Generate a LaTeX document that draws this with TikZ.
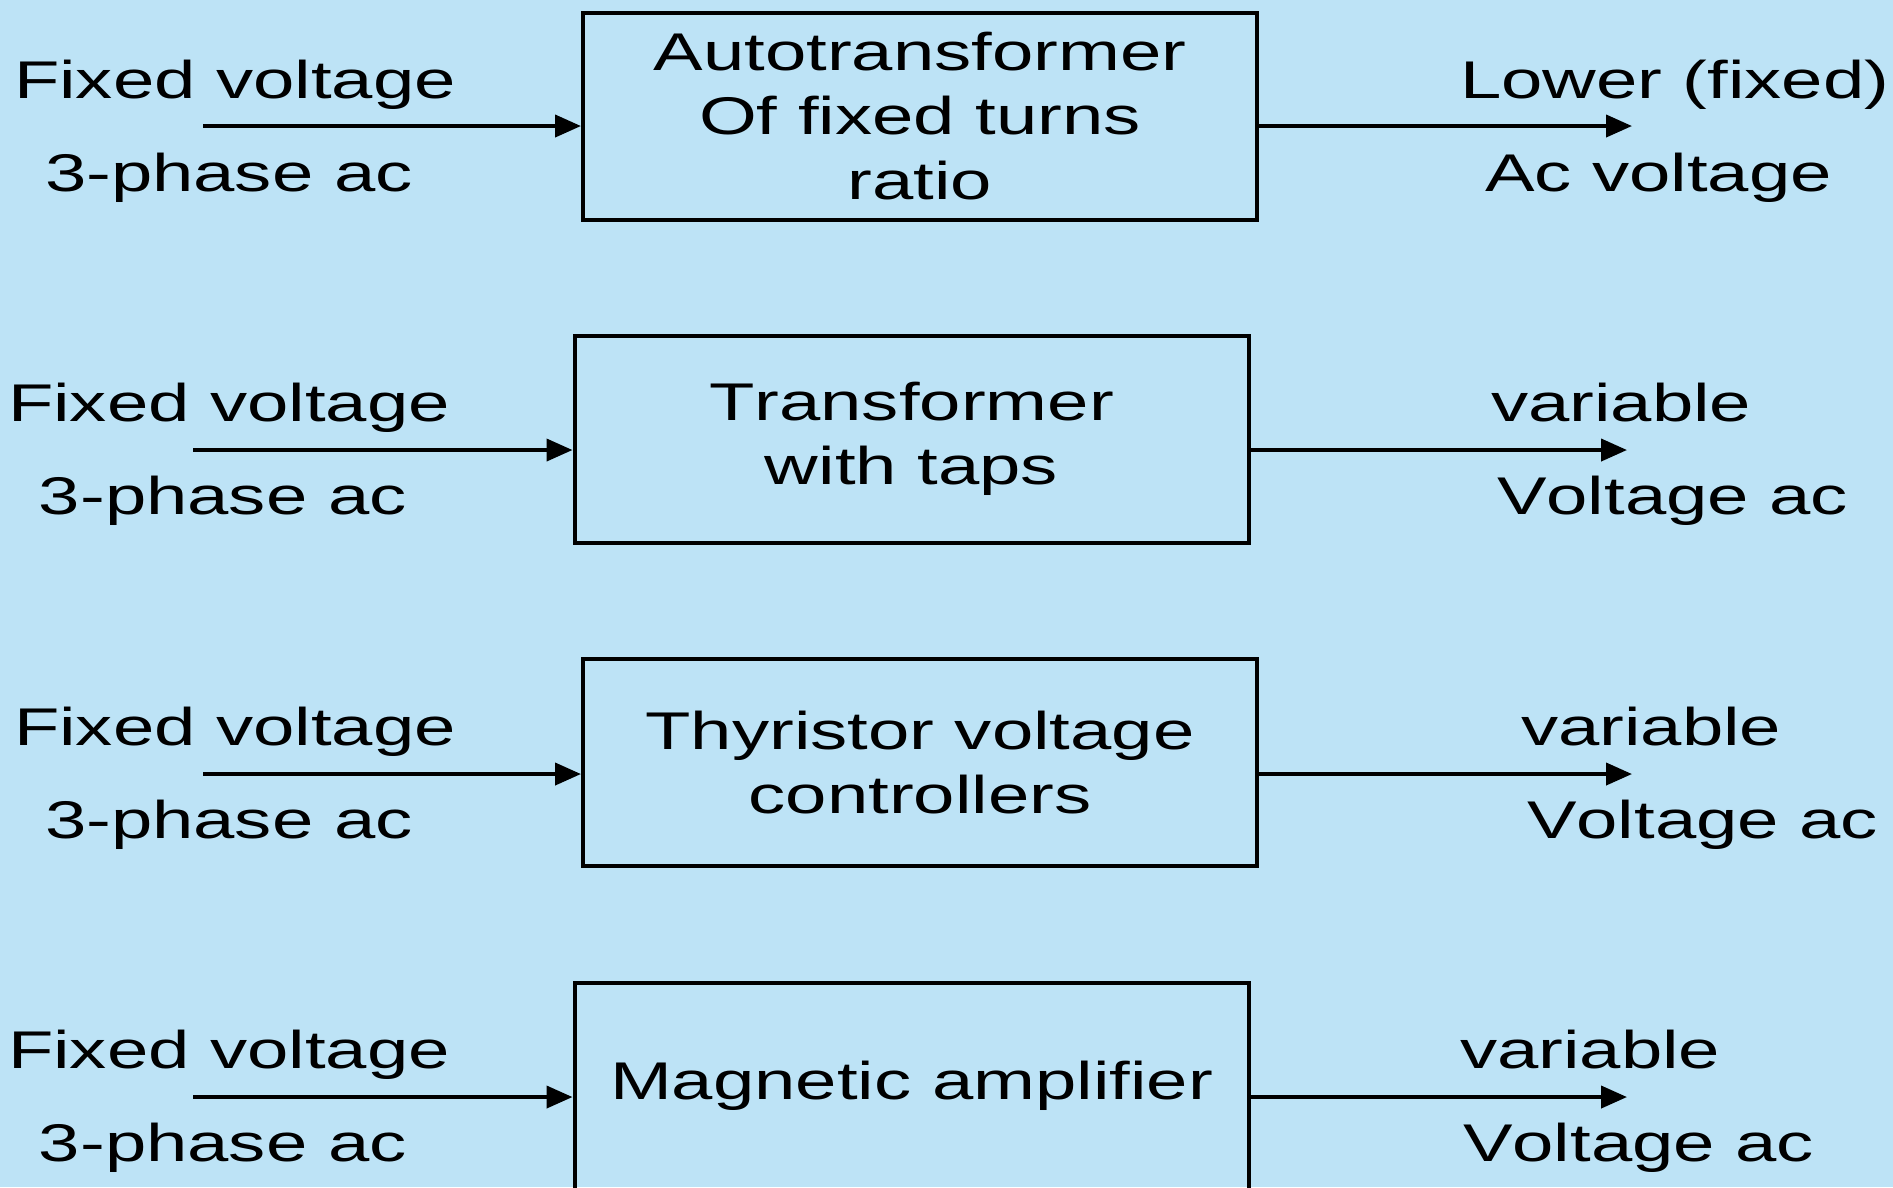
\documentclass[tikz,border=0pt]{standalone}
\usepackage{fontspec}
\setmainfont{Liberation Sans}[FakeStretch=1.4,Kerning=Off]
\usepackage{tikz}
\usetikzlibrary{positioning, arrows.meta}
\usepackage{xcolor}
\definecolor{skyback}{RGB}{189,227,246}
\newcommand{\blockfont}{\fontsize{15.1pt}{18.3pt}\selectfont}

\begin{document}
\begin{tikzpicture}[x=0.1mm, y=-0.1mm, >={Triangle[length=2.6mm, width=2.2mm]},
            line width=0.4mm,
            block/.style={draw, rectangle, inner sep=0pt, align=center,
                minimum width=67.4mm, minimum height=20.7mm, font=\blockfont},
            tag/.style={inner sep=0pt, anchor=base west, font=\blockfont}]

        % --- Page ---
        \useasboundingbox (0,0) rectangle (1893,1187);
        \fill[skyback] (0,0) rectangle (1893,1187);
        \clip (0,0) rectangle (1893,1187);

        % --- Blocks ---
        \node[block] (auto)  at (920,116)    {Autotransformer\\Of fixed turns\\ratio};
        \node[block] (taps)  at (911.5,439)  {Transformer\\with taps};
        \node[block] (thyr)  at (920,762.5)  {Thyristor voltage\\controllers};
        \node[block] (magn)  at (911.5,1086) {Magnetic amplifier};

        % --- Arrow ends ---
        \coordinate (in1)  at (203,126);   \coordinate (out1) at (1632,126);
        \coordinate (in2)  at (193,450);   \coordinate (out2) at (1627,450);
        \coordinate (in3)  at (203,774);   \coordinate (out3) at (1632,774);
        \coordinate (in4)  at (193,1097);  \coordinate (out4) at (1627,1097);

        % --- Arrows ---
        \draw[->] (in1) -- (in1 -| auto.west);
        \draw[->] (out1 -| auto.east) -- (out1);
        \draw[->] (in2) -- (in2 -| taps.west);
        \draw[->] (out2 -| taps.east) -- (out2);
        \draw[->] (in3) -- (in3 -| thyr.west);
        \draw[->] (out3 -| thyr.east) -- (out3);
        \draw[->] (in4) -- (in4 -| magn.west);
        \draw[->] (out4 -| magn.east) -- (out4);

        % --- Input labels ---
        \node[tag] (fix1) at (12,98)   {Fixed voltage};
        \node[tag] (ph1)  at (43,191)  {3-phase ac};
        \node[tag] (fix2) at (6,421)   {Fixed voltage};
        \node[tag] (ph2)  at (37,514)  {3-phase ac};
        \node[tag] (fix3) at (12,745)  {Fixed voltage};
        \node[tag] (ph3)  at (43,838)  {3-phase ac};
        \node[tag] (fix4) at (6,1068)  {Fixed voltage};
        \node[tag] (ph4)  at (37,1161) {3-phase ac};

        % --- Output labels ---
        \node[tag] (low1) at (1458,98)   {Lower (fixed)};
        \node[tag] (ac1)  at (1483,191)  {Ac voltage};
        \node[tag] (var2) at (1489,421)  {variable};
        \node[tag] (ac2)  at (1495,514)  {Voltage ac};
        \node[tag] (var3) at (1519,745)  {variable};
        \node[tag] (ac3)  at (1525,838)  {Voltage ac};
        \node[tag] (var4) at (1458,1068) {variable};
        \node[tag] (ac4)  at (1461,1161) {Voltage ac};

    \end{tikzpicture}
\end{document}
